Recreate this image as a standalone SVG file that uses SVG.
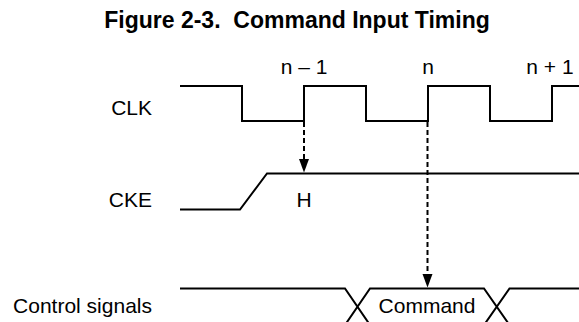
<svg xmlns="http://www.w3.org/2000/svg" width="579" height="322" viewBox="0 0 579 322">
<style>
.t{font-family:"Liberation Sans",Arial,sans-serif;font-size:21px;fill:#000}
.title{font-family:"Liberation Sans",Arial,sans-serif;font-size:23px;font-weight:bold;fill:#000;white-space:pre}
.w{fill:none;stroke:#000;stroke-width:2}
.d{fill:none;stroke:#000;stroke-width:2;stroke-dasharray:5 3}
.ah{fill:#000}
</style>
<rect width="579" height="322" fill="#fff"/>
<text class="title" x="297" y="28" text-anchor="middle" xml:space="preserve">Figure 2-3.  Command Input Timing</text>
<g id="clk">
<text class="t" x="152" y="115" text-anchor="end">CLK</text>
<path class="w" d="M180,86 H242 V121 H304 V86 H366 V121 H428 V86 H490 V121 H552 V86 H579"/>
<text class="t" x="304" y="74" text-anchor="middle">n – 1</text>
<text class="t" x="428" y="74" text-anchor="middle">n</text>
<text class="t" x="550" y="74" text-anchor="middle">n + 1</text>
</g>
<g id="cke">
<text class="t" x="152" y="207" text-anchor="end">CKE</text>
<path class="w" d="M180,209.5 H240 L267,173.5 H579"/>
<text class="t" x="304" y="207" text-anchor="middle">H</text>
</g>
<g id="ctrl">
<text class="t" x="152" y="313" text-anchor="end">Control signals</text>
<path class="w" d="M180,288.5 H345 L370,325 M345,325 L370,288.5 H484 L509.5,325 M484,325 L509.5,288.5 H579"/>
<text class="t" x="427" y="313" text-anchor="middle">Command</text>
</g>
<g id="connectors">
<path class="d" d="M304,122 V159"/>
<path class="ah" d="M299,159 L309,159 L304,172.5 Z"/>
<path class="d" d="M427.5,122 V274"/>
<path class="ah" d="M422.5,274 L432.5,274 L427.5,287.5 Z"/>
</g>
</svg>
